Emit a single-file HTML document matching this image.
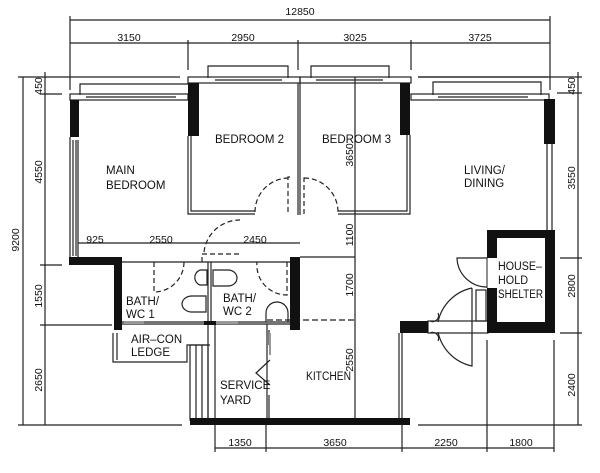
<!DOCTYPE html>
<html><head><style>body{margin:0;background:#fff}svg{display:block}text{font-family:"Liberation Sans",sans-serif;fill:#111}</style></head><body>
<svg width="600" height="473" viewBox="0 0 600 473" xmlns="http://www.w3.org/2000/svg">
<g stroke="#222" stroke-width="1.2" fill="none">
<line x1="70" y1="20" x2="550" y2="20"/>
<line x1="70" y1="43" x2="550" y2="43"/>
<line x1="70" y1="16" x2="70" y2="90"/><line x1="188" y1="40" x2="188" y2="70"/><line x1="298" y1="40" x2="298" y2="70"/><line x1="411" y1="40" x2="411" y2="70"/><line x1="550" y1="16" x2="550" y2="90"/>
<line x1="23" y1="77" x2="23" y2="425"/><line x1="45" y1="72" x2="45" y2="425"/>
<line x1="18" y1="77" x2="180" y2="77"/><line x1="40" y1="94" x2="62" y2="94"/><line x1="40" y1="265" x2="62" y2="265"/><line x1="40" y1="325" x2="112" y2="325"/><line x1="18" y1="425" x2="182" y2="425"/>
<line x1="578" y1="72" x2="578" y2="425"/>
<line x1="418" y1="77" x2="582" y2="77"/><line x1="557" y1="93" x2="582" y2="93"/><line x1="560" y1="258" x2="582" y2="258"/><line x1="560" y1="333" x2="582" y2="333"/><line x1="418" y1="425" x2="582" y2="425"/>
<line x1="215" y1="448" x2="554" y2="448"/>
<line x1="215" y1="425" x2="215" y2="452"/><line x1="266" y1="425" x2="266" y2="452"/><line x1="402" y1="425" x2="402" y2="452"/><line x1="487" y1="340" x2="487" y2="452"/><line x1="554" y1="340" x2="554" y2="452"/>
<line x1="78" y1="243" x2="300" y2="243"/>
<line x1="355" y1="77" x2="355" y2="422"/>
<line x1="300" y1="257" x2="355" y2="257"/>
<path d="M80 95 V84 H188"/><path d="M208 78 V66 H288 V78"/><path d="M311 78 V66 H389 V78"/><path d="M433 95 V82 H541 V95"/><path d="M418 77 H548"/>
<rect x="70" y="94" width="118" height="6"/><line x1="86" y1="97" x2="176" y2="97"/>
<rect x="188" y="77" width="112" height="6"/><line x1="215" y1="80" x2="282" y2="80"/>
<rect x="300" y="77" width="111" height="6"/><line x1="316" y1="80" x2="383" y2="80"/>
<rect x="411" y="94" width="138" height="6"/><line x1="438" y1="97" x2="528" y2="97"/>
<line x1="70" y1="137" x2="70" y2="258"/><line x1="78" y1="140" x2="78" y2="258"/><line x1="73" y1="140" x2="73" y2="256"/><line x1="76" y1="140" x2="76" y2="256"/>
<path d="M188 136 V214 H255"/><path d="M191 136 V211 H255"/>
<line x1="298" y1="83" x2="298" y2="215"/><line x1="300" y1="83" x2="300" y2="215"/>
<path d="M290 177 H288 V214" stroke-dasharray="5,3"/>
<path d="M255 212 A34 34 0 0 1 288 178" stroke-dasharray="5,3"/>
<path d="M338 214 H410 V135"/><path d="M338 211 H407 V135"/>
<path d="M304 214 V178 H306" stroke-dasharray="5,3"/>
<path d="M304 178 A34 34 0 0 1 338 212" stroke-dasharray="5,3"/>
<line x1="547" y1="144" x2="547" y2="230"/><line x1="552" y1="144" x2="552" y2="230"/>
<path d="M204 252 A36 36 0 0 1 240 220" stroke-dasharray="5,3"/>
<path d="M202 262 V254 H240" stroke-dasharray="5,3"/>
<line x1="122" y1="262" x2="290" y2="262"/><line x1="122" y1="322" x2="300" y2="322"/><line x1="122" y1="324" x2="300" y2="324"/>
<line x1="208" y1="262" x2="208" y2="420"/><line x1="211" y1="262" x2="211" y2="322"/>
<path d="M154 262 V292 A30 30 0 0 0 184 262" stroke-dasharray="5,3"/>
<path d="M287 262 V295 A30 30 0 0 1 257 262" stroke-dasharray="5,3"/>
<path d="M207 270 H200 A8 8 0 0 0 200 285 H207 Z"/><path d="M213 270 H228 A9 8 0 0 1 228 286 H213 Z"/>
<path d="M206 296 H192 A10 8 0 0 0 192 312 H206 Z"/>
<path d="M266 322 V313 A11 11 0 0 1 288 313 V322"/>
<path d="M113 333 V362 H187 V345 H210"/><path d="M117 333 V360"/>
<rect x="190" y="345" width="18" height="75"/><line x1="196" y1="345" x2="196" y2="420"/><line x1="202" y1="345" x2="202" y2="420"/>
<line x1="215" y1="324" x2="215" y2="420"/>
<path d="M267 324 V420"/><path d="M269 330 V345 M269 395 V420"/>
<path d="M270 360 L256 373 L270 385"/>
<line x1="267" y1="320" x2="355" y2="320" stroke-dasharray="6,3"/>
<line x1="399" y1="333" x2="399" y2="420"/><line x1="402" y1="333" x2="402" y2="420"/>
<rect x="428" y="321" width="60" height="12"/>
<path d="M487 258 H457 A30 30 0 0 0 487 287"/>
<path d="M472 288 A44 44 0 0 0 438 322 M438 332 A44 44 0 0 0 472 366 V288"/>
<path d="M438 313 A6 6 0 0 1 430 321 M430 333 A6 6 0 0 1 438 341"/>
<rect x="476" y="290" width="10" height="31"/>
</g>
<g fill="#111">
<rect x="70" y="100" width="9" height="37"/><rect x="188" y="83" width="11" height="53"/><rect x="400" y="83" width="10" height="52"/><rect x="544" y="99" width="11" height="45"/>
<rect x="69" y="257" width="53" height="8"/><rect x="114" y="257" width="8" height="73"/><rect x="290" y="257" width="10" height="73"/>
<rect x="204" y="321" width="12" height="4"/>
<rect x="190" y="418" width="220" height="7"/>
<rect x="400" y="321" width="28" height="12"/>
<path d="M487 230 H555 V333 H487 Z M497 238 V322 H545 V238 Z" fill-rule="evenodd"/>
<rect x="487" y="258" width="10" height="30" fill="#fff"/>
</g>
<line x1="487" y1="258" x2="487" y2="288" stroke="#222"/>
<g fill="#999"><rect x="124" y="321" width="20" height="3"/><rect x="216" y="321" width="22" height="3"/><rect x="269" y="333" width="2" height="22"/></g>
<g font-size="10.5">
<text x="300" y="15" text-anchor="middle">12850</text>
<text x="129" y="41" text-anchor="middle">3150</text><text x="243" y="41" text-anchor="middle">2950</text><text x="355" y="41" text-anchor="middle">3025</text><text x="480" y="41" text-anchor="middle">3725</text>
<text x="95" y="243" text-anchor="middle">925</text><text x="161" y="243" text-anchor="middle">2550</text><text x="255" y="243" text-anchor="middle">2450</text>
<text x="240" y="446" text-anchor="middle">1350</text><text x="335" y="446" text-anchor="middle">3650</text><text x="446" y="446" text-anchor="middle">2250</text><text x="521" y="446" text-anchor="middle">1800</text>
<text transform="translate(19,240) rotate(-90)" text-anchor="middle">9200</text>
<text transform="translate(42,86) rotate(-90)" text-anchor="middle">450</text>
<text transform="translate(42,172) rotate(-90)" text-anchor="middle">4550</text>
<text transform="translate(42,296) rotate(-90)" text-anchor="middle">1550</text>
<text transform="translate(42,380) rotate(-90)" text-anchor="middle">2650</text>
<text transform="translate(575,86) rotate(-90)" text-anchor="middle">450</text>
<text transform="translate(575,178) rotate(-90)" text-anchor="middle">3550</text>
<text transform="translate(575,286) rotate(-90)" text-anchor="middle">2800</text>
<text transform="translate(575,385) rotate(-90)" text-anchor="middle">2400</text>
<text transform="translate(353,155) rotate(-90)" text-anchor="middle">3650</text>
<text transform="translate(353,235) rotate(-90)" text-anchor="middle">1100</text>
<text transform="translate(353,285) rotate(-90)" text-anchor="middle">1700</text>
<text transform="translate(353,360) rotate(-90)" text-anchor="middle">2550</text>
</g>
<g font-size="11.5">
<text x="106" y="174">MAIN</text><text x="106" y="189">BEDROOM</text>
<text x="215" y="143">BEDROOM  2</text><text x="322" y="143">BEDROOM  3</text>
<text x="464" y="174">LIVING/</text><text x="464" y="187">DINING</text>
<text x="498" y="270" textLength="44" lengthAdjust="spacingAndGlyphs">HOUSE–</text><text x="498" y="284" textLength="30" lengthAdjust="spacingAndGlyphs">HOLD</text><text x="498" y="298" textLength="45" lengthAdjust="spacingAndGlyphs">SHELTER</text>
<text x="126" y="305">BATH/</text><text x="126" y="318">WC  1</text>
<text x="223" y="302">BATH/</text><text x="223" y="315">WC  2</text>
<text x="131" y="343">AIR–CON</text><text x="131" y="356">LEDGE</text>
<text x="220" y="389">SERVICE</text><text x="220" y="404">YARD</text>
<text x="306" y="380" textLength="45" lengthAdjust="spacingAndGlyphs">KITCHEN</text>
</g>
</svg>
</body></html>
